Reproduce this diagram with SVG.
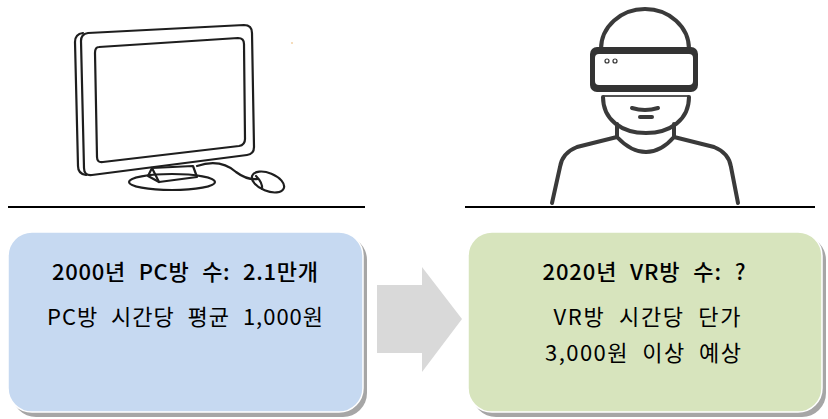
<svg xmlns="http://www.w3.org/2000/svg" width="828" height="419" viewBox="0 0 828 419">
  <style>
    .ink { fill: none; stroke: #1e1e1e; stroke-width: 2.2; stroke-linecap: round; stroke-linejoin: round; }
    .fig { fill: none; stroke: #3a3a3a; stroke-width: 4; stroke-linecap: round; stroke-linejoin: round; }
    .rule { stroke: #000; stroke-width: 2; }
    .shadow { fill: #a6a6a6; }
    .box { stroke: #ffffff; stroke-width: 1.5; }
    .t { font-family: "Noto Sans CJK KR", "Noto Sans", sans-serif; fill: #000; text-anchor: middle; font-size: 22px; word-spacing: 7px; }
    .t1 { font-weight: 500; }
    .t2 { font-weight: 400; }
  </style>

  <rect width="828" height="419" fill="#ffffff"/>

  <!-- desktop monitor with mouse -->
  <g id="monitor">
    <!-- side depth of the bezel -->
    <path class="ink" d="M83,33 Q75,34 75,42 L78,166 Q78,174 86,175" fill="#ffffff"/>
    <!-- bezel -->
    <path class="ink" d="M88,33 L244,25 Q252,25 252,33 L254,147 Q254,154 247,155 L92,175 Q84,176 84,168 L81,41 Q81,34 88,33 Z" fill="#e3e3e3"/>
    <!-- screen -->
    <path class="ink" d="M99,47 L238,38 Q244,38 244,44 L245,139 Q245,145 239,146 L103,162 Q97,163 97,157 L95,53 Q95,47 99,47 Z" fill="#ffffff"/>
    <!-- stand base -->
    <ellipse class="ink" cx="172" cy="182" rx="43" ry="8" fill="#ffffff"/>
    <!-- stand neck -->
    <path class="ink" d="M152,168 L193,166 L197,177 L159,182 Z" fill="#ffffff"/>
    <path class="ink" d="M152,168 L148,176 L159,182"/>
    <!-- cable -->
    <path class="ink" d="M197,166 C215,160 228,165 236,172 C244,178 250,180 258,179"/>
    <!-- mouse -->
    <ellipse class="ink" cx="268" cy="182" rx="17" ry="9" transform="rotate(22 268 182)" fill="#ffffff"/>
    <path class="ink" d="M256,176 Q263,183 262,189"/>
    <circle cx="292" cy="43" r="0.8" fill="#e8b26a"/>
  </g>

  <!-- person wearing a VR headset -->
  <g id="vr-user">
    <!-- head dome -->
    <path class="fig" d="M601,49 A44,40 0 0 1 689,49"/>
    <!-- headset -->
    <rect x="590" y="47" width="108" height="45" rx="7" fill="#333333"/>
    <rect x="595" y="54" width="98" height="31" rx="4" fill="#ffffff"/>
    <circle cx="607" cy="61" r="2" fill="none" stroke="#333" stroke-width="1.2"/>
    <circle cx="615" cy="61" r="2" fill="none" stroke="#333" stroke-width="1.2"/>
    <line x1="603" y1="96" x2="689" y2="96" stroke="#555" stroke-width="2"/>
    <!-- face -->
    <path class="fig" d="M603,97 C603,120 622,133 646,133 C670,133 689,120 689,97"/>
    <path class="fig" d="M632,108 Q645,112 658,108"/>
    <line class="fig" x1="640" y1="117" x2="652" y2="117"/>
    <!-- neck -->
    <path class="fig" d="M617,124 L617,137 Q631,152 646,152 Q661,152 674,137 L674,124"/>
    <!-- shoulders -->
    <path class="fig" d="M617,137 L577,147 Q562,153 560,167 L552,203"/>
    <path class="fig" d="M674,137 L714,147 Q729,153 731,167 L738,203"/>
  </g>

  <!-- baselines under the pictures -->
  <line class="rule" x1="8" y1="207" x2="365" y2="207"/>
  <line class="rule" x1="465" y1="207" x2="815" y2="207"/>

  <!-- PC room box -->
  <g id="pc-box">
    <rect class="shadow" x="12" y="236" width="355" height="181" rx="24"/>
    <rect class="box" x="8" y="232" width="355" height="180" rx="24" fill="#c6d9f1"/>
    <text class="t t1" x="185" y="280" textLength="266" lengthAdjust="spacing">2000년 PC방 수: 2.1만개</text>
    <text class="t t2" x="185" y="325" textLength="276" lengthAdjust="spacing">PC방 시간당 평균 1,000원</text>
  </g>

  <!-- transition arrow -->
  <g id="connectors">
    <path d="M377,285 L422,285 L422,267 L462,319 L422,372 L422,353 L377,353 Z" fill="#d9d9d9"/>
  </g>

  <!-- VR room box -->
  <g id="vr-box">
    <rect class="shadow" x="472" y="236" width="354" height="181" rx="24"/>
    <rect class="box" x="468" y="232" width="354" height="180" rx="24" fill="#d7e4bd"/>
    <text class="t t1" x="644" y="280" textLength="203" lengthAdjust="spacing">2020년 VR방 수: ?</text>
    <text class="t t2" x="647" y="325" textLength="187" lengthAdjust="spacing">VR방 시간당 단가</text>
    <text class="t t2" x="643" y="361" textLength="196" lengthAdjust="spacing">3,000원 이상 예상</text>
  </g>
</svg>
